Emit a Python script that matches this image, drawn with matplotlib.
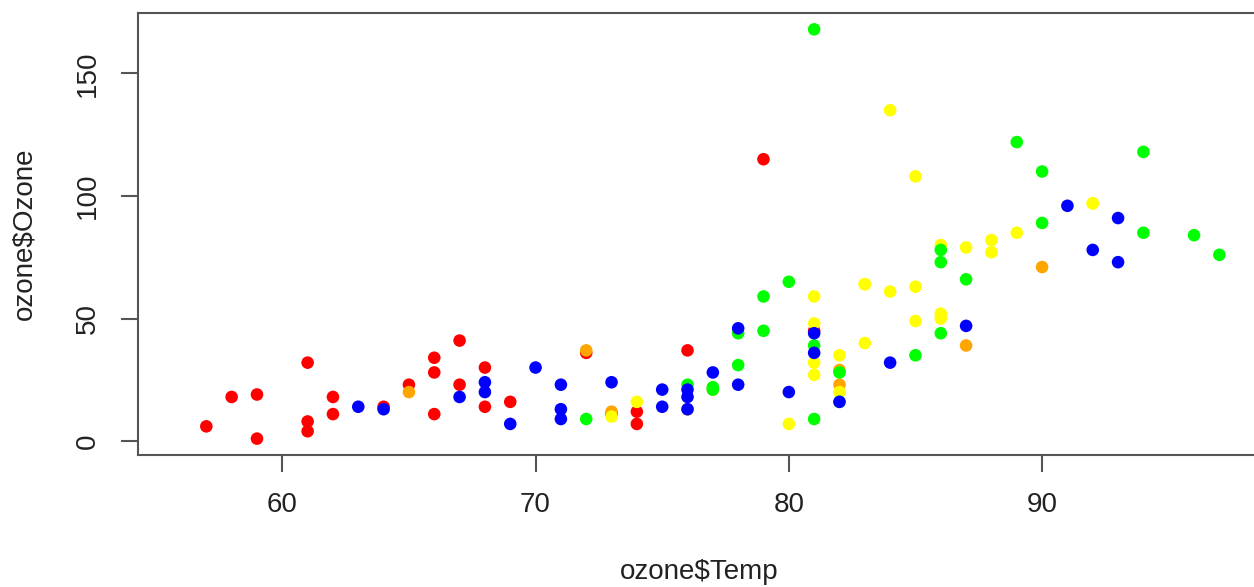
import numpy as np
import matplotlib
matplotlib.use("Agg")
import matplotlib.pyplot as plt

# airquality rows with non-missing Ozone, in row order (May..September)
months = [5] * 26 + [6] * 9 + [7] * 26 + [8] * 26 + [9] * 29

temp = [
	# May
	67, 72, 74, 62, 66, 65, 59, 61, 74, 69, 66, 68, 58, 64, 66, 57, 68, 62, 59, 73, 61, 61, 67, 81, 79, 76,
	# June
	82, 90, 87, 82, 77, 72, 65, 73, 76,
	# July
	84, 85, 81, 83, 83, 88, 92, 92, 89, 73, 81, 80, 81, 82, 84, 87, 85, 74, 86, 85, 82, 86, 88, 86, 83, 81,
	# August
	81, 81, 82, 86, 85, 87, 89, 90, 90, 86, 82, 80, 77, 79, 76, 78, 78, 77, 72, 79, 81, 86, 97, 94, 96, 94,
	# September
	91, 92, 93, 93, 87, 84, 80, 78, 75, 73, 81, 76, 77, 71, 71, 78, 67, 76, 68, 82, 64, 71, 81, 69, 63, 70, 75, 76, 68,
]

ozone = [
	# May
	41, 36, 12, 18, 28, 23, 19, 8, 7, 16, 11, 14, 18, 14, 34, 6, 30, 11, 1, 11, 4, 32, 23, 45, 115, 37,
	# June
	29, 71, 39, 23, 21, 37, 20, 12, 13,
	# July
	135, 49, 32, 64, 40, 77, 97, 97, 85, 10, 27, 7, 48, 35, 61, 79, 63, 16, 80, 108, 20, 52, 82, 50, 64, 59,
	# August
	39, 9, 16, 78, 35, 66, 122, 89, 110, 44, 28, 65, 22, 59, 23, 31, 44, 21, 9, 45, 168, 73, 76, 118, 84, 85,
	# September
	96, 78, 73, 91, 47, 32, 20, 23, 21, 24, 44, 21, 28, 9, 13, 46, 18, 13, 24, 16, 13, 23, 36, 7, 14, 30, 14, 18, 20,
]

month_colors = {5: "#FF0000", 6: "#FFA500", 7: "#FFFF00", 8: "#00FF00", 9: "#0000FF"}

x_ticks = [60, 70, 80, 90]
y_ticks = [0, 50, 100, 150]

plt.rcParams['font.family'] = ['Liberation Sans', 'DejaVu Sans']

fig = plt.figure(figsize=(12.54, 5.87), dpi=100)
ax = fig.add_axes([0.110, 0.2249, 0.8947, 0.7530])

cols = [month_colors[m] for m in months]
ax.scatter(temp, ozone, c=cols, s=82, linewidths=0, zorder=3)

ax.set_xlim(54.3, 98.6)
ax.set_ylim(-5.68, 174.68)
ax.set_xticks(x_ticks)
ax.set_yticks(y_ticks)

spine_col = "#555555"
for s in ax.spines.values():
	s.set_color(spine_col)
	s.set_linewidth(1.5)

ax.tick_params(axis="both", length=12, width=1.5, color=spine_col, labelsize=20,
	labelcolor="#222222", pad=15)
for lab in ax.get_yticklabels():
	lab.set_rotation(90)
	lab.set_va("center")

ax.set_xlabel("ozone$Temp", fontsize=20, color="#222222", labelpad=29)
ax.set_ylabel("ozone$Ozone", fontsize=20, color="#222222", labelpad=27)

fig.savefig("out.png", dpi=100)
